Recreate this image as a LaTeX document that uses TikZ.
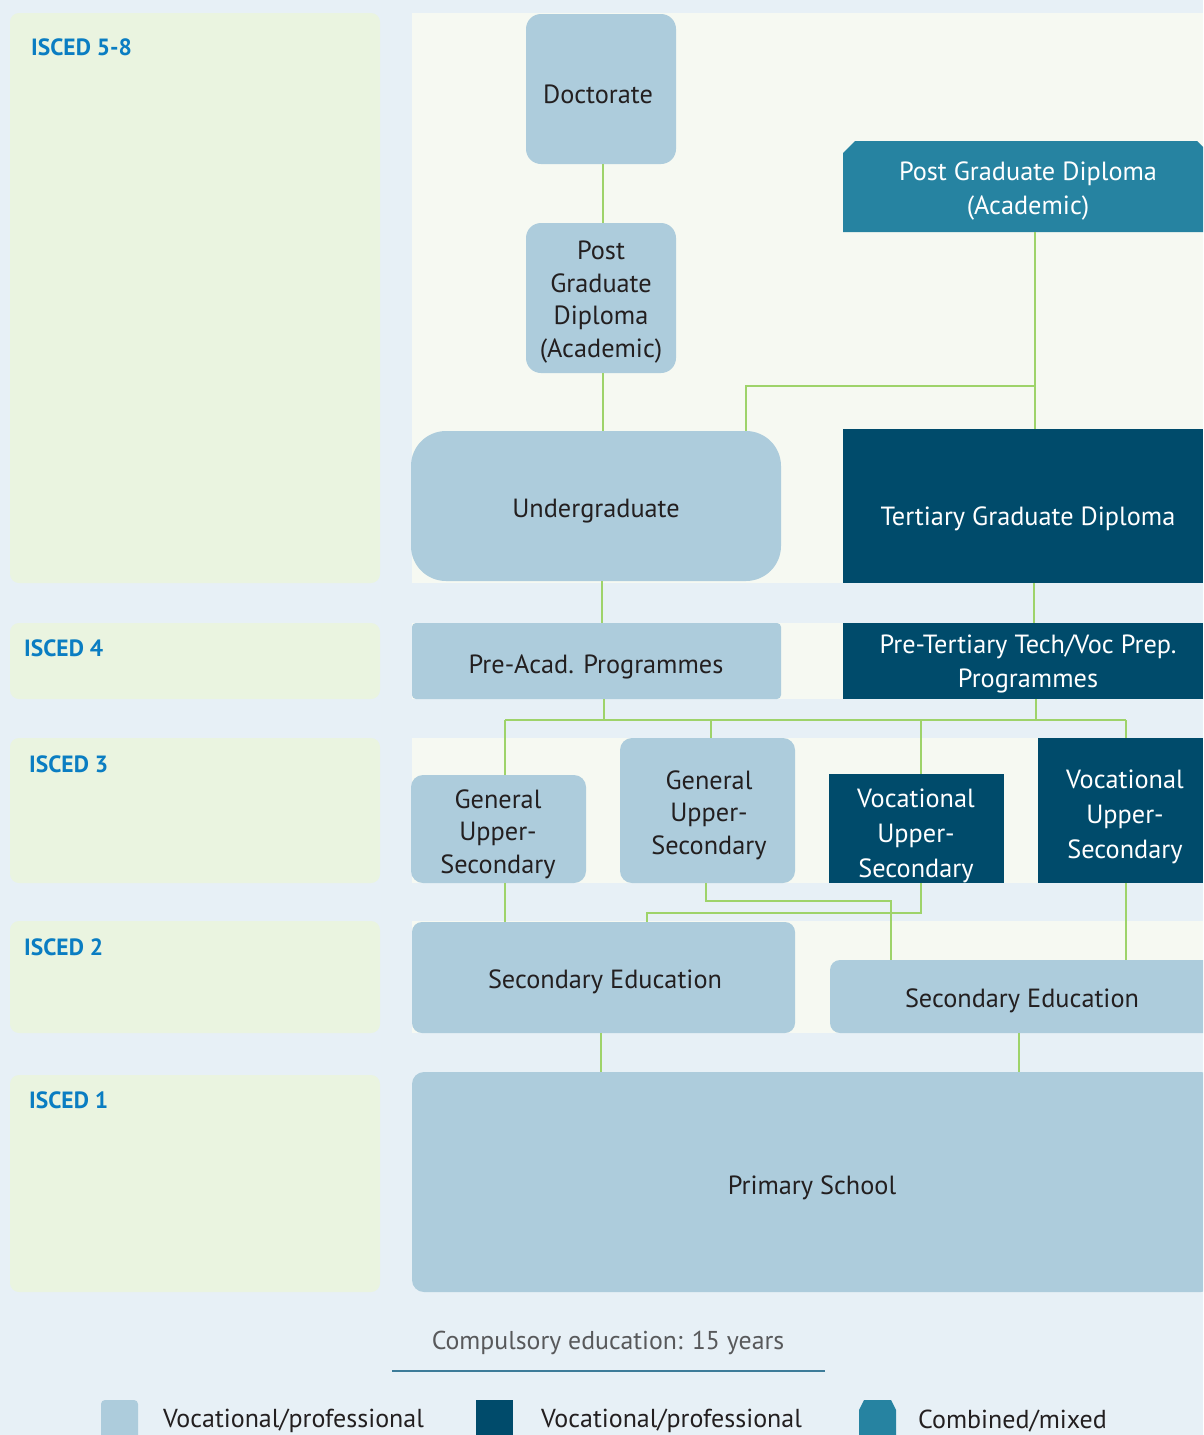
\documentclass[tikz,border=0pt]{standalone}
\usepackage{fontspec}
\setmainfont{PT Sans}
\definecolor{bgc}{HTML}{E7F0F6}
\definecolor{panelg}{HTML}{EAF4E0}
\definecolor{panelw}{HTML}{F6F9F2}
\definecolor{lightb}{HTML}{ADCCDC}
\definecolor{navy}{HTML}{004B6B}
\definecolor{teal}{HTML}{2683A1}
\definecolor{conn}{HTML}{9ED36A}
\definecolor{iscedblue}{HTML}{0A7DC2}
\definecolor{txtdark}{HTML}{231F20}
\definecolor{graytxt}{HTML}{58595B}
\definecolor{rulec}{HTML}{3D7C99}
\tikzset{
  lbox/.style={fill=lightb, inner sep=0pt},
  nbox/.style={fill=navy, inner sep=0pt},
  ltxt/.style={text=txtdark, inner sep=0pt, align=center, yshift=-3pt, font=\fontsize{26.3}{32.5}\selectfont},
  ntxt/.style={text=white, inner sep=0pt, align=center, yshift=-3pt, font=\fontsize{26.3}{34.8}\selectfont},
  lpanel/.style={fill=panelg, rounded corners=9pt},
  wpanel/.style={fill=panelw},
  isced/.style={anchor=west, text=iscedblue, font=\fontsize{23.5}{28}\selectfont\bfseries, inner sep=0pt},
  link/.style={draw=conn, line width=1.6pt},
  legtxt/.style={anchor=west, text=txtdark, font=\fontsize{26}{30}\selectfont, inner sep=0pt}
}
\begin{document}
\begin{tikzpicture}[x=1pt,y=-1pt]
\clip (0,0) rectangle (1203,1435);
\fill[bgc] (0,0) rectangle (1203,1435);
% left panels
\fill[lpanel] (10,13) rectangle (380,583);
\fill[lpanel] (10,623) rectangle (380,699);
\fill[lpanel] (10,738) rectangle (380,883);
\fill[lpanel] (10,921) rectangle (380,1033);
\fill[lpanel] (10,1075) rectangle (380,1292);
% right light panels
\fill[wpanel] (412,13) rectangle (1203,583);
\fill[wpanel] (412,623) rectangle (1203,699);
\fill[wpanel] (412,738) rectangle (1203,883);
\fill[wpanel] (412,921) rectangle (1203,1033);
% ISCED labels
\node[isced] (i58) at (31,47) {ISCED 5-8};
\node[isced] (i4) at (24,648) {ISCED 4};
\node[isced] (i3) at (29,764) {ISCED 3};
\node[isced] (i2) at (24,947) {ISCED 2};
\node[isced] (i1) at (29,1100) {ISCED 1};
% boxes
\node[lbox, rounded corners=15pt, minimum width=150, minimum height=150] (doc) at (601,89) {};
\node[lbox, rounded corners=15pt, minimum width=150, minimum height=150] (pgd) at (601,298) {};
\fill[teal] (843,153) -- (855,141) -- (1197,141) -- (1203,147) -- (1203,232) -- (843,232) -- cycle;
\node[inner sep=0pt, minimum width=360, minimum height=91] (pgdt) at (1023,186.5) {};
\node[lbox, rounded corners=35pt, minimum width=370, minimum height=150] (ug) at (596,506) {};
\node[nbox, minimum width=360, minimum height=154] (tgd) at (1023,506) {};
\node[lbox, rounded corners=4pt, minimum width=369, minimum height=76] (pre) at (596.5,661) {};
\node[nbox, minimum width=360, minimum height=76] (pret) at (1023,661) {};
\node[lbox, rounded corners=12pt, minimum width=175, minimum height=108] (gus1) at (498.5,829) {};
\node[lbox, rounded corners=12pt, minimum width=175, minimum height=145] (gus2) at (707.5,810.5) {};
\node[nbox, minimum width=175, minimum height=109] (vus1) at (916.5,828.5) {};
\node[nbox, minimum width=165, minimum height=145] (vus2) at (1120.5,810.5) {};
\node[lbox, rounded corners=10pt, minimum width=383, minimum height=111] (se1) at (603.5,977.5) {};
\node[lbox, rounded corners=10pt, minimum width=383, minimum height=73] (se2) at (1021.5,996.5) {};
\node[lbox, rounded corners=12pt, minimum width=801, minimum height=220] (prim) at (812.5,1182) {};
% texts
\node[ltxt] (doc-t) at (598,91) {Doctorate};
\node[ltxt] (pgd-t) at (601,299) {Post\\Graduate\\Diploma\\(Academic)};
\node[ntxt] (pgdt-t) at (1028,188) {Post Graduate Diploma\\(Academic)};
\node[ltxt] (ug-t) at (596,508) {Undergraduate};
\node[ntxt] (tgd-t) at (1028,516) {Tertiary Graduate Diploma};
\node[ltxt] (pre-t) at (596,664) {Pre-Acad. Programmes};
\node[ntxt] (pret-t) at (1028,661) {Pre-Tertiary Tech/Voc Prep.\\Programmes};
\node[ltxt] (gus1-t) at (498,831) {General\\Upper-\\Secondary};
\node[ltxt] (gus2-t) at (709,812) {General\\Upper-\\Secondary};
\node[ntxt] (vus1-t) at (916,833) {Vocational\\Upper-\\Secondary};
\node[ntxt] (vus2-t) at (1125,814) {Vocational\\Upper-\\Secondary};
\node[ltxt] (se1-t) at (605,979) {Secondary Education};
\node[ltxt] (se2-t) at (1022,998) {Secondary Education};
\node[ltxt] (prim-t) at (812,1185) {Primary School};
% connectors
\draw[link] (doc.south -| 603,0) -- (pgd.north -| 603,0);
\draw[link] (pgd.south -| 603,0) -- (ug.north -| 603,0);
\draw[link] (pgdt.south -| 1035,0) -- (tgd.north -| 1035,0);
\coordinate (br) at (1035,386);
\draw[link] (br) -- (746,386) -- (ug.north -| 746,0);
\draw[link] (ug.south -| 602,0) -- (pre.north -| 602,0);
\draw[link] (tgd.south -| 1034,0) -- (pret.north -| 1034,0);
\coordinate (hl) at (505,720);
\coordinate (hr) at (1126,720);
\draw[link] (pre.south -| 604,0) -- (604,720);
\draw[link] (pret.south -| 1036,0) -- (1036,720);
\draw[link] (hl) -- (hr);
\draw[link] (hl) -- (gus1.north -| hl);
\draw[link] (711,720) -- (gus2.north -| 711,0);
\draw[link] (921,720) -- (vus1.north -| 921,0);
\draw[link] (hr) -- (vus2.north -| hr);
\draw[link] (gus1.south -| 505,0) -- (se1.north -| 505,0);
\draw[link] (gus2.south -| 706,0) -- (706,901) -- (891,901) -- (se2.north -| 891,0);
\draw[link] (vus1.south -| 921,0) -- (921,913) -- (647,913) -- (se1.north -| 647,0);
\draw[link] (vus2.south -| 1126,0) -- (se2.north -| 1126,0);
\draw[link] (se1.south -| 601,0) -- (prim.north -| 601,0);
\draw[link] (se2.south -| 1019,0) -- (prim.north -| 1019,0);
% footer
\node[text=graytxt, font=\fontsize{25.8}{30}\selectfont, inner sep=0pt] (comp) at (608,1343) {Compulsory education: 15 years};
\coordinate (rl) at (392,1371);
\coordinate (rr) at (825,1371);
\draw[rulec, line width=1.3pt] (rl) -- (rr);
% legend
\fill[lightb, rounded corners=4pt] (101,1445) rectangle (138,1400);
\node[legtxt] (l1) at (163,1421) {Vocational/professional};
\fill[navy] (476,1400) rectangle (513,1445);
\node[legtxt] (l2) at (541,1421) {Vocational/professional};
\fill[teal] (859,1410) -- (864,1400) -- (891,1400) -- (896,1410) -- (896,1445) -- (859,1445) -- cycle;
\node[legtxt] (l3) at (918,1421) {Combined/mixed};
\end{tikzpicture}
\end{document}
